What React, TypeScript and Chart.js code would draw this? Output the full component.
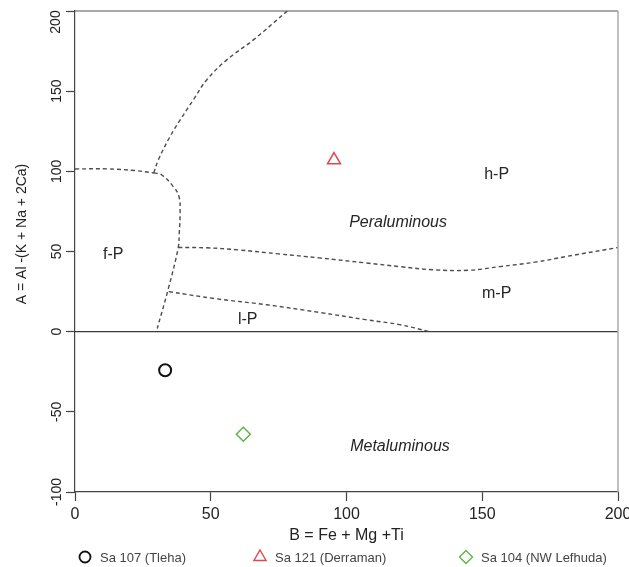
import React, { useEffect, useRef } from 'react';
import { Chart, registerables } from 'chart.js';

Chart.register(...registerables);

// Axis ticks
const xTicks = [0, 50, 100, 150, 200];
const yTicks = [-100, -50, 0, 50, 100, 150, 200];

// Samples (B = Fe + Mg + Ti, A = Al - (K + Na + 2Ca))
const sampleNames = ['Sa 107 (Tleha)', 'Sa 121 (Derraman)', 'Sa 104 (NW Lefhuda)'];
const sampleB = [33.2, 95.4, 62.0];
const sampleA = [-24.1, 107.0, -64.0];
const sampleStyles = ['circle', 'triangle', 'rectRot'];
const sampleColors = ['#111111', '#e0484b', '#5cb545'];

// Field boundaries
const fpTopB = [0, 12, 22, 29];
const fpTopA = [101.5, 101.5, 100.5, 99];
const fpUpperB = [29, 30.7, 35, 38.7, 43.6, 48.5, 55.9, 65.7, 78.2];
const fpUpperA = [99, 107.2, 121.7, 132, 144.6, 157, 169.5, 182, 200];
const fpRightB = [29, 31.9, 36.2, 38.3, 38.7, 38.4, 38, 34.4, 30.3];
const fpRightA = [99, 97.8, 90.5, 84.3, 74, 61.5, 52.2, 27, 2];
const hpLowerB = [38, 48.5, 60, 75, 90, 107.4, 120, 131.9, 145, 156.5, 170, 181, 200];
const hpLowerA = [52.5, 52.3, 51, 48.5, 46, 42.8, 40.5, 38.6, 38.3, 40.6, 43.5, 46.9, 52.5];
const lpLowerB = [34.5, 52, 70.6, 90, 107, 119.5, 130.7];
const lpLowerA = [25, 20.5, 16.8, 12, 7.5, 4.4, 0];
const zeroB = [0, 200];
const zeroA = [0, 0];

// Field labels
const regionLabels = ['f-P', 'h-P', 'Peraluminous', 'm-P', 'l-P', 'Metaluminous'];
const regionLabelB = [14.1, 155.3, 119, 155.3, 63.6, 119.7];
const regionLabelA = [47.9, 97.8, 68, 23.6, 7.8, -71.6];
const regionItalic = [false, false, true, false, false, true];

const xTitle = 'B = Fe + Mg +Ti';
const yTitle = 'A = Al -(K + Na + 2Ca)';

const FONT = '"Liberation Sans", Arial, sans-serif';
const Y_MAX = yTicks[yTicks.length - 1];

function drawMarker(ctx: CanvasRenderingContext2D, style: string, x: number, y: number, r: number) {
  ctx.beginPath();
  if (style === 'circle') {
    ctx.arc(x, y, r, 0, Math.PI * 2);
  } else if (style === 'triangle') {
    ctx.moveTo(x, y - r);
    ctx.lineTo(x + r * Math.sin((2 * Math.PI) / 3), y - r * Math.cos((2 * Math.PI) / 3));
    ctx.lineTo(x + r * Math.sin((4 * Math.PI) / 3), y - r * Math.cos((4 * Math.PI) / 3));
    ctx.closePath();
  } else {
    ctx.moveTo(x, y - r);
    ctx.lineTo(x + r, y);
    ctx.lineTo(x, y + r);
    ctx.lineTo(x - r, y);
    ctx.closePath();
  }
  ctx.stroke();
}

export default function App() {
  const ref = useRef<HTMLCanvasElement>(null);

  useEffect(() => {
    const canvas = ref.current;
    if (!canvas) return;

    const boundary = (b: number[], a: number[], dashed = true) => ({
      type: 'scatter',
      data: b.map((v, i) => ({ x: v, y: a[i] })),
      showLine: true,
      borderColor: dashed ? '#4d4d4d' : '#3a3a3a',
      borderWidth: dashed ? 1.4 : 1.2,
      borderDash: dashed ? [4, 3] : [],
      pointRadius: 0,
      tension: dashed ? 0.4 : 0,
      fill: false,
      isSample: false,
    });

    const samples = sampleNames.map((name, i) => ({
      type: 'scatter',
      label: name,
      data: [{ x: sampleB[i], y: sampleA[i] }],
      pointStyle: sampleStyles[i],
      pointRadius: [6, 7.5, 7][i],
      pointBorderWidth: [2, 1.5, 1.5][i],
      borderColor: sampleColors[i],
      pointBorderColor: sampleColors[i],
      backgroundColor: 'rgba(0,0,0,0)',
      pointBackgroundColor: 'rgba(0,0,0,0)',
      showLine: false,
      isSample: true,
    }));

    const datasets: any[] = [
      boundary(zeroB, zeroA, false),
      boundary(fpTopB, fpTopA),
      boundary(fpUpperB, fpUpperA),
      boundary(fpRightB, fpRightA),
      boundary(hpLowerB, hpLowerA),
      boundary(lpLowerB, lpLowerA),
      ...samples,
    ];

    const framePlugin = {
      id: 'frame',
      afterDatasetsDraw(chart: any) {
        const { ctx, chartArea } = chart;
        ctx.save();
        ctx.lineWidth = 1.2;
        ctx.strokeStyle = '#555555';
        ctx.beginPath();
        ctx.moveTo(chartArea.left, chartArea.top);
        ctx.lineTo(chartArea.right, chartArea.top);
        ctx.stroke();
        ctx.strokeStyle = '#aaaaaa';
        ctx.lineWidth = 1.5;
        ctx.beginPath();
        ctx.moveTo(chartArea.right, chartArea.top);
        ctx.lineTo(chartArea.right, chartArea.bottom);
        ctx.stroke();
        ctx.restore();
      },
    };

    const labelPlugin = {
      id: 'regionLabels',
      afterDatasetsDraw(chart: any) {
        const { ctx, scales } = chart;
        ctx.save();
        ctx.fillStyle = '#262626';
        ctx.textAlign = 'center';
        ctx.textBaseline = 'middle';
        regionLabels.forEach((t, i) => {
          ctx.font = `${regionItalic[i] ? 'italic ' : ''}16px ${FONT}`;
          ctx.fillText(t, scales.x.getPixelForValue(regionLabelB[i]), scales.y.getPixelForValue(regionLabelA[i]));
        });
        // top y tick label, kept inside the canvas
        ctx.save();
        ctx.font = `14px ${FONT}`;
        ctx.fillStyle = '#222222';
        ctx.translate(56, scales.y.getPixelForValue(Y_MAX) + 11);
        ctx.rotate(-Math.PI / 2);
        ctx.fillText(String(Y_MAX), 0, 0);
        ctx.restore();
        // y-axis title
        ctx.font = `14px ${FONT}`;
        ctx.fillStyle = '#222222';
        ctx.translate(22, 234);
        ctx.rotate(-Math.PI / 2);
        ctx.fillText(yTitle, 0, 0);
        ctx.restore();
      },
    };

    const legendX = [85, 260, 466];
    const legendY = 557;
    const legendR = [5.5, 7, 6.5];
    const legendPlugin = {
      id: 'customLegend',
      afterDraw(chart: any) {
        const { ctx } = chart;
        ctx.save();
        const items = chart.data.datasets.filter((d: any) => d.isSample);
        items.forEach((d: any, i: number) => {
          ctx.strokeStyle = d.borderColor;
          ctx.lineWidth = i === 0 ? 1.8 : 1.4;
          drawMarker(ctx, d.pointStyle, legendX[i], legendY, legendR[i]);
          ctx.fillStyle = '#444444';
          ctx.font = `13px ${FONT}`;
          ctx.textAlign = 'left';
          ctx.textBaseline = 'middle';
          ctx.fillText(d.label, legendX[i] + 15, legendY + 1);
        });
        ctx.restore();
      },
    };

    const chart = new Chart(canvas, {
      type: 'scatter',
      data: { datasets },
      options: {
        responsive: false,
        animation: false,
        events: [],
        layout: { padding: { top: 11, right: 11, bottom: 0, left: 0 } },
        plugins: { legend: { display: false }, tooltip: { enabled: false } },
        scales: {
          x: {
            type: 'linear',
            min: 0,
            max: 200,
            afterBuildTicks: (scale: any) => {
              scale.ticks = xTicks.map((v) => ({ value: v }));
            },
            afterFit: (scale: any) => {
              scale.height = 75;
              scale.paddingLeft = 0;
              scale.paddingRight = 0;
            },
            grid: { drawOnChartArea: false, drawTicks: true, tickLength: 9, tickColor: '#444444', tickWidth: 1.2 },
            border: { display: true, color: '#444444', width: 1.2 },
            ticks: { font: { family: FONT, size: 16 }, color: '#222222', padding: 4, maxRotation: 0 },
            title: { display: true, text: xTitle, font: { family: FONT, size: 16 }, color: '#222222', padding: { top: 0, bottom: 22 } },
          },
          y: {
            type: 'linear',
            min: -100,
            max: 200,
            afterBuildTicks: (scale: any) => {
              scale.ticks = yTicks.map((v) => ({ value: v }));
            },
            afterFit: (scale: any) => {
              scale.width = 75;
              scale.paddingTop = 0;
              scale.paddingBottom = 0;
            },
            grid: { drawOnChartArea: false, drawTicks: true, tickLength: 9, tickColor: '#444444', tickWidth: 1.2 },
            border: { display: true, color: '#444444', width: 1.2 },
            ticks: {
              font: { family: FONT, size: 14 },
              color: '#222222',
              padding: -5,
              minRotation: 90,
              maxRotation: 90,
              crossAlign: 'center',
              callback: (v: any) => (Number(v) === Y_MAX ? '' : String(v)),
            },
          },
        },
      } as any,
      plugins: [framePlugin, labelPlugin, legendPlugin],
    } as any);

    return () => chart.destroy();
  }, []);

  return (
    <div style={{ position: 'fixed', left: 0, top: 0, width: 629, height: 567, background: '#ffffff' }}>
      <canvas ref={ref} width={629} height={567} style={{ display: 'block' }} />
    </div>
  );
}
